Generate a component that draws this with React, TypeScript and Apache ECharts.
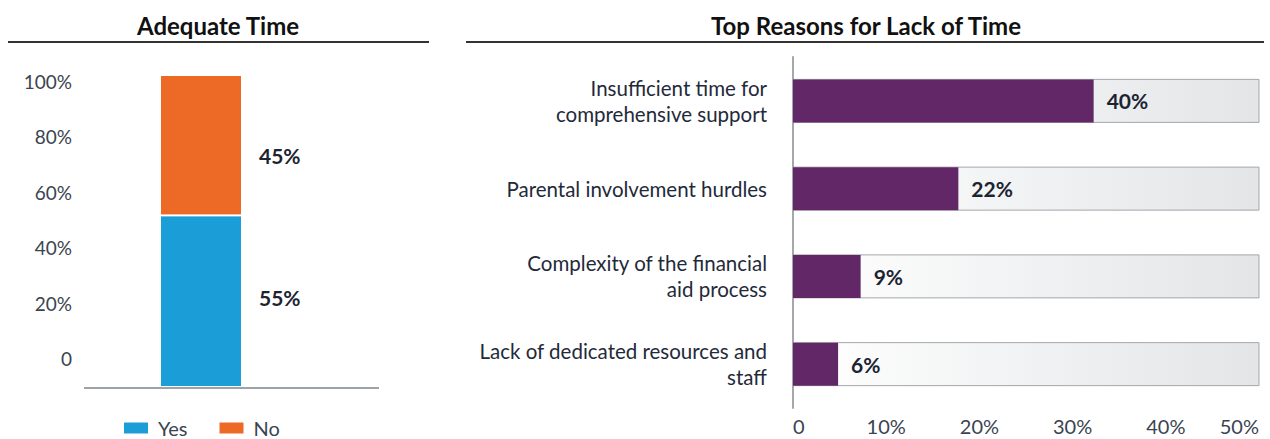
import React, { useEffect, useRef } from "react";
import * as echarts from "echarts";

const leftCategories = ["Adequate Time"];
const yesValues = [55];
const noValues = [45];
const leftTicks = [0, 20, 40, 60, 80, 100];

const reasons = [
  "Insufficient time for\ncomprehensive support",
  "Parental involvement hurdles",
  "Complexity of the financial\naid process",
  "Lack of dedicated resources and\nstaff",
];
const reasonValues = [40, 22, 9, 6];

const FONT = "Lato";

export default function App() {
  const ref = useRef<HTMLDivElement>(null);
  useEffect(() => {
    document.body.style.margin = "0";
    const chart = echarts.init(ref.current!, null, { renderer: "svg" });
    const labelColor = "#3a4450";
    const valueLabel = {
      show: true,
      position: "right",
      formatter: "{c}%",
      fontSize: 21,
      fontWeight: "bold",
      color: "#1c2331",
      fontFamily: FONT,
    };
    const option: any = {
      animation: false,
      textStyle: { fontFamily: FONT },
      title: [
        {
          text: "Adequate Time",
          left: 213,
          top: 8,
          textAlign: "center",
          textStyle: { fontSize: 24, fontWeight: "bold", color: "#111", fontFamily: FONT },
        },
        {
          text: "Top Reasons for Lack of Time",
          left: 861,
          top: 8,
          textAlign: "center",
          textStyle: { fontSize: 24, fontWeight: "bold", color: "#111", fontFamily: FONT },
        },
      ],
      graphic: [
        { type: "line", shape: { x1: 8, y1: 42, x2: 429, y2: 42 }, style: { stroke: "#333", lineWidth: 2 } },
        { type: "line", shape: { x1: 466, y1: 42, x2: 1264, y2: 42 }, style: { stroke: "#333", lineWidth: 2 } },
        { type: "line", shape: { x1: 84, y1: 388, x2: 379, y2: 388 }, style: { stroke: "#9ea3a8", lineWidth: 2 } },
      ],
      legend: {
        data: ["Yes", "No"],
        left: 122,
        top: 418,
        padding: 0,
        itemWidth: 26,
        itemHeight: 13,
        itemGap: 30,
        icon: "rect",
        textStyle: { fontSize: 20, color: labelColor, padding: [0, 0, 0, 4], fontFamily: FONT },
      },
      grid: [
        { left: 84, width: 234, top: 75, height: 312 },
        { left: 793, width: 466, top: 57, height: 351 },
      ],
      xAxis: [
        {
          type: "category",
          gridIndex: 0,
          data: leftCategories,
          axisLine: { show: false },
          axisTick: { show: false },
          axisLabel: { show: false },
        },
        { type: "value", gridIndex: 1, min: 0, max: 62, show: false },
        {
          type: "value",
          gridIndex: 1,
          min: 0,
          max: 50,
          interval: 10,
          position: "bottom",
          axisLine: { show: false },
          axisTick: { show: false },
          splitLine: { show: false },
          axisLabel: {
            margin: 8,
            fontSize: 20,
            color: labelColor,
            fontFamily: FONT,
            alignMinLabel: "left",
            alignMaxLabel: "right",
            formatter: (v: number) => (v === 0 ? "0" : v + "%"),
          },
        },
      ],
      yAxis: [
        { type: "value", gridIndex: 0, min: 0, max: 100, show: false },
        {
          type: "value",
          gridIndex: 0,
          min: -10.1,
          max: 102.2,
          position: "left",
          axisLine: { show: false },
          axisTick: { show: false },
          splitLine: { show: false },
          axisLabel: {
            customValues: leftTicks,
            margin: 12,
            fontSize: 19,
            color: labelColor,
            fontFamily: FONT,
            formatter: (v: number) => (v === 0 ? "0" : v + "%"),
          },
        },
        {
          type: "category",
          gridIndex: 1,
          data: reasons,
          inverse: true,
          axisLine: { lineStyle: { color: "#a4a8ac", width: 2 } },
          axisTick: { show: false },
          axisLabel: {
            margin: 26,
            fontSize: 20.5,
            lineHeight: 26,
            color: "#1f2a3a",
            fontFamily: FONT,
            align: "right",
            padding: [0, 0, 4, 0],
          },
        },
      ],
      series: [
        {
          name: "Yes",
          type: "bar",
          stack: "a",
          xAxisIndex: 0,
          yAxisIndex: 0,
          data: yesValues,
          barWidth: 82,
          itemStyle: { color: "#1b9ed8", borderColor: "#fff", borderWidth: 1 },
          label: { ...valueLabel, distance: 17, offset: [0, -4] },
        },
        {
          name: "No",
          type: "bar",
          stack: "a",
          xAxisIndex: 0,
          yAxisIndex: 0,
          data: noValues,
          barWidth: 82,
          itemStyle: { color: "#ec6a25", borderColor: "#fff", borderWidth: 1 },
          label: { ...valueLabel, distance: 17, offset: [0, 10] },
        },
        {
          name: "Reasons",
          type: "bar",
          xAxisIndex: 1,
          yAxisIndex: 2,
          data: reasonValues,
          barWidth: 43,
          itemStyle: { color: "#612766" },
          showBackground: true,
          backgroundStyle: {
            color: new echarts.graphic.LinearGradient(0, 0, 1, 0, [
              { offset: 0, color: "#ffffff" },
              { offset: 1, color: "#e3e5e7" },
            ]),
            borderColor: "#a3a7ab",
            borderWidth: 1,
          },
          label: { ...valueLabel, distance: 13 },
        },
      ],
    };
    chart.setOption(option);
    return () => chart.dispose();
  }, []);
  return <div ref={ref} style={{ width: 1270, height: 439 }} />;
}
